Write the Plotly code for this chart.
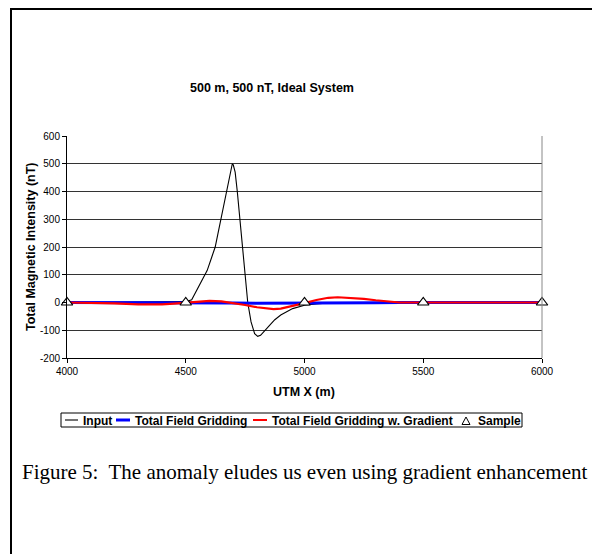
import plotly.graph_objects as go

# ---------------- data ----------------
input_x = [4000, 4450, 4500, 4525, 4547, 4570, 4590, 4610, 4624, 4636, 4648, 4660, 4670,
           4685, 4692, 4696, 4700, 4708, 4717, 4729, 4739, 4750, 4761, 4775, 4790, 4803,
           4815, 4830, 4850, 4875, 4900, 4950, 5000, 5050, 5100, 5200, 6000]
input_y = [0, 1, 3, 10, 46, 80, 115, 165, 200, 250, 300, 355, 400,
           465, 490, 500, 496, 470, 400, 300, 200, 100, 0, -70, -112, -122,
           -118, -105, -85, -62, -45, -22, -10, -5, -2, 0, 0]

tfg_x = [4000, 4500, 4600, 4700, 4800, 4900, 5000, 5100, 5200, 5300, 5400, 5500, 6000]
tfg_y = [0, 0, -1, -2, -3, -3, -3, -3, -2, -1, 0, 0, 0]

tfgg_x = [4000, 4100, 4200, 4300, 4350, 4400, 4450, 4500, 4550, 4600, 4650, 4700, 4750,
          4800, 4850, 4870, 4900, 4950, 5000, 5050, 5100, 5140, 5200, 5250, 5300, 5350,
          5400, 5500, 6000]
tfgg_y = [0, -1, -3, -7, -8, -7, -4, 0, 4, 6, 4, -2, -9,
          -17, -23, -24, -22, -13, -2, 9, 17, 19, 17, 13, 8, 3,
          0, 0, 0]

sample_x = [4000, 4500, 5000, 5500, 6000]
sample_y = [0, 0, 0, 0, 0]

x_ticks = [4000, 4500, 5000, 5500, 6000]
x_tick_text = ["4000", "4500", "5000", "5500", "6000"]
y_ticks = [-200, -100, 0, 100, 200, 300, 400, 500, 600]
y_tick_text = ["-200", "-100", "0", "100", "200", "300", "400", "500", "600"]

title = "500 m, 500 nT, Ideal System"
x_title = "UTM X (m)"
y_title = "Total Magnetic Intensity (nT)"
caption = "Figure 5:  The anomaly eludes us even using gradient enhancement"
legend_names = ["Input", "Total Field Gridding", "Total Field Gridding w. Gradient", "Sample"]

# ---------------- layout helpers ----------------
OFF = 8                      # page body margin
W, H = 600 - OFF, 554 - OFF
L, R, T, B = 67, 542, 136, 358   # plot area in page pixels


def px(xp):
    return (xp - L) / (R - L)


def py(yp):
    return (B - yp) / (B - T)


SANS = "Liberation Sans, Arial, sans-serif"
SERIF = "Liberation Serif, Times New Roman, serif"

fig = go.Figure()
fig.add_trace(go.Scatter(x=input_x, y=input_y, mode="lines", name=legend_names[0],
                         line=dict(color="#000000", width=1.1)))
fig.add_trace(go.Scatter(x=tfg_x, y=tfg_y, mode="lines", name=legend_names[1],
                         line=dict(color="#0000FF", width=3)))
fig.add_trace(go.Scatter(x=tfgg_x, y=tfgg_y, mode="lines", name=legend_names[2],
                         line=dict(color="#FF0000", width=2.2)))
fig.add_trace(go.Scatter(x=sample_x, y=sample_y, mode="markers", name=legend_names[3],
                         marker=dict(symbol="triangle-up", size=10, color="white",
                                     line=dict(color="black", width=1.2)),
                         cliponaxis=False))

fig.update_layout(
    width=W, height=H,
    margin=dict(l=L - OFF, r=600 - R, t=T - OFF, b=554 - B, pad=0),
    paper_bgcolor="white", plot_bgcolor="white",
    showlegend=False,
    font=dict(family=SANS, size=10, color="black"),
    xaxis=dict(range=[4000, 6000], tickvals=x_ticks, ticktext=x_tick_text,
               ticks="outside", ticklen=4, tickcolor="black", showgrid=False,
               showline=True, linecolor="black", linewidth=1, zeroline=False,
               tickfont=dict(size=10), mirror=False),
    yaxis=dict(range=[-200, 600], tickvals=y_ticks, ticktext=y_tick_text,
               ticks="outside", ticklen=4,
               tickcolor="black", showgrid=True, gridcolor="#333333", gridwidth=1,
               showline=True, linecolor="black", linewidth=1, zeroline=False,
               tickfont=dict(size=10)),
)

shapes = []
# plot area right border (gray)
shapes.append(dict(type="line", xref="paper", yref="paper", x0=1, x1=1, y0=0, y1=1,
                   line=dict(color="#888888", width=1)))
# outer frame
shapes.append(dict(type="line", xref="paper", yref="paper", x0=px(10), x1=px(600),
                   y0=py(9), y1=py(9), line=dict(color="black", width=2)))
shapes.append(dict(type="line", xref="paper", yref="paper", x0=px(11), x1=px(11),
                   y0=py(8), y1=py(554), line=dict(color="black", width=2)))

# custom legend
shapes.append(dict(type="rect", xref="paper", yref="paper", x0=px(61), x1=px(522),
                   y0=py(413), y1=py(427), line=dict(color="black", width=1),
                   fillcolor="white"))
ly = 420
legend_items = [
    (65, 78, "#444444", 1.5, 81, legend_names[0]),
    (116, 130, "#0000FF", 3, 133, legend_names[1]),
    (253, 267, "#FF0000", 2, 270, legend_names[2]),
]
annotations = []
for x0, x1, col, wd, tx, name in legend_items:
    shapes.append(dict(type="line", xref="paper", yref="paper", x0=px(x0), x1=px(x1),
                       y0=py(ly), y1=py(ly), line=dict(color=col, width=wd)))
    annotations.append(dict(xref="paper", yref="paper", x=px(tx), y=py(ly + 0.5),
                            xanchor="left", yanchor="middle", showarrow=False,
                            text="<b>%s</b>" % name,
                            font=dict(family=SANS, size=12, color="black")))
# triangle legend marker
tcx, tcy = 466, 421
shapes.append(dict(type="path", xref="paper", yref="paper",
                   path="M %f,%f L %f,%f L %f,%f Z" % (px(tcx - 4), py(tcy + 3.5),
                                                        px(tcx + 4), py(tcy + 3.5),
                                                        px(tcx), py(tcy - 4)),
                   line=dict(color="black", width=1), fillcolor="white"))
annotations.append(dict(xref="paper", yref="paper", x=px(476), y=py(ly + 0.5),
                        xanchor="left", yanchor="middle", showarrow=False,
                        text="<b>%s</b>" % legend_names[3],
                        font=dict(family=SANS, size=12, color="black")))

# titles
annotations.append(dict(xref="paper", yref="paper", x=px(272), y=py(88),
                        xanchor="center", yanchor="middle", showarrow=False,
                        text="<b>%s</b>" % title, font=dict(family=SANS, size=12.5)))
annotations.append(dict(xref="paper", yref="paper", x=px(304), y=py(392),
                        xanchor="center", yanchor="middle", showarrow=False,
                        text="<b>%s</b>" % x_title, font=dict(family=SANS, size=12.5)))
annotations.append(dict(xref="paper", yref="paper", x=px(31), y=py(247),
                        xanchor="center", yanchor="middle", showarrow=False, textangle=-90,
                        text="<b>%s</b>" % y_title, font=dict(family=SANS, size=12.5)))
# caption
annotations.append(dict(xref="paper", yref="paper", x=px(20), y=py(472),
                        xanchor="left", yanchor="middle", showarrow=False,
                        text=caption, font=dict(family=SERIF, size=21)))

fig.update_layout(shapes=shapes, annotations=annotations)
fig.write_html("out.html")
